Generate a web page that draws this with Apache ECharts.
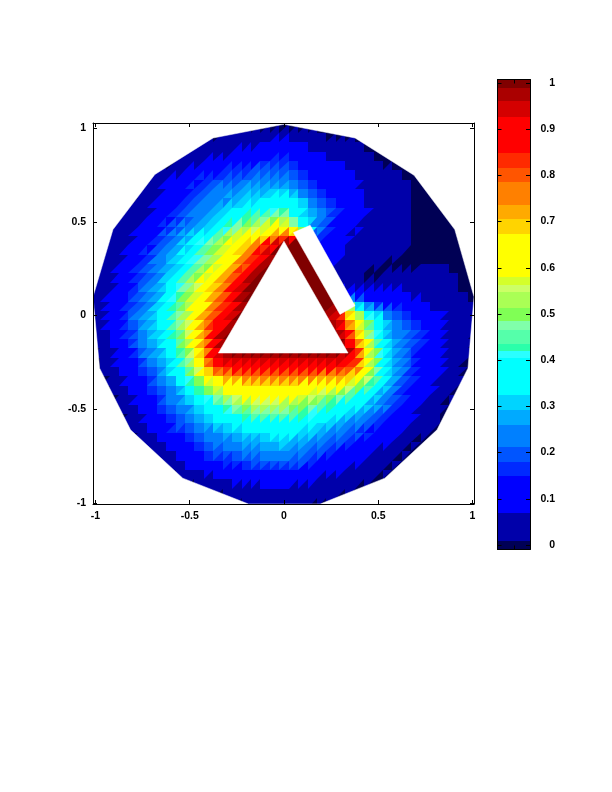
<!DOCTYPE html>
<html><head><meta charset="utf-8">
<style>html,body{margin:0;padding:0;background:#fff}#c{width:612px;height:792px}</style>
<script src="https://cdn.jsdelivr.net/npm/echarts@6/dist/echarts.min.js"></script>
</head><body><div id="c"></div>
<script>
// Grid positions of the value table (percent of full scale).
var gridX = [-1,-.95,-.9,-.85,-.8,-.75,-.7,-.65,-.6,-.55,-.5,-.45,-.4,-.35,-.3,-.25,-.2,-.15,-.1,-.05,0,.05,.1,.15,.2,.25,.3,.35,.4,.45,.5,.55,.6,.65,.7,.75,.8,.85,.9,.95,1];
var gridY = [1,.95,.9,.85,.8,.75,.7,.65,.6,.55,.5,.45,.4,.35,.3,.25,.2,.15,.1,.05,0,-.05,-.1,-.15,-.2,-.25,-.3,-.35,-.4,-.45,-.5,-.55,-.6,-.65,-.7,-.75,-.8,-.85,-.9,-.95,-1];
var fieldRows = [
[0,0,0,0,0,0,0,0,0,0,0,0,0,0,0,0,0,0,0,1,1,1],
[0,0,0,0,0,0,0,0,0,0,0,0,0,2,3,3,4,5,5,6,7,6,5,3,2,0,0,0],
[0,0,0,0,0,0,0,0,0,0,2,2,3,4,5,6,7,8,9,10,11,9,7,6,5,4,4,3,2,0],
[0,0,0,0,0,0,0,0,0,2,3,5,6,7,8,9,10,11,12,13,14,12,11,9,7,6,5,4,3,2,0,0],
[0,0,0,0,0,0,0,0,2,4,6,8,10,12,14,15,16,17,18,19,19,16,14,12,10,9,7,5,4,3,2,0,0],
[0,0,0,0,0,0,2,4,7,9,11,14,15,16,17,18,19,20,21,22,22,21,17,15,13,11,9,7,6,5,4,3,0,0],
[0,0,0,0,0,1,3,6,8,11,14,16,18,20,21,23,24,25,25,26,26,25,20,16,14,12,11,9,6,5,4,3,3,2,0],
[0,0,0,0,0,2,4,7,10,13,16,19,21,23,25,27,29,30,31,31,31,30,26,20,15,13,11,9,7,6,5,4,3,2,0,0],
[0,0,0,0,2,3,6,9,12,15,18,21,23,25,27,29,32,34,35,36,37,33,30,27,19,15,13,10,8,6,5,4,3,2,0,0,0],
[0,0,0,2,3,5,8,11,15,18,21,24,27,30,33,36,39,41,42,44,45,40,32,28,24,19,14,12,10,7,5,4,3,2,0,0,0],
[0,0,2,3,5,7,10,13,16,19,22,25,29,33,38,42,46,50,53,56,58,45,36,28,24,15,12,10,7,6,5,4,3,2,0,0,0,0],
[0,0,3,4,7,9,13,16,20,24,27,32,35,41,46,53,57,59,60,63,68,62,50,22,20,14,11,8,6,5,4,3,3,2,0,0,0,0,0],
[0,2,3,5,8,11,14,18,23,28,31,37,43,50,56,60,64,70,78,88,95,98,100,16,15,11,9,6,5,4,3,2,2,2,0,0,0,0,0],
[0,3,4,7,10,13,17,21,26,30,35,42,48,54,60,66,73,81,90,98,100,100,100,100,10,9,8,6,5,4,3,2,2,2,0,0,0,0,0,0],
[1,3,5,8,12,15,19,24,28,33,38,44,51,58,64,70,79,87,96,100,100,100,100,100,8,8,7,5,4,3,3,2,0,0,0,0,0,0,0,0,0],
[2,4,6,9,13,17,21,25,29,35,41,47,54,60,68,76,84,94,100,100,100,100,100,100,100,6,5,3,2,1,0,0,1,1,1,2,2,2,0,0,0],
[2,5,7,11,15,18,23,27,33,43,49,56,62,69,77,87,95,100,100,100,100,100,100,100,100,5,4,2,1,0,1,4,5,4,4,3,3,2,1,0,0],
[3,5,8,12,16,20,24,29,36,44,51,58,64,73,81,90,98,100,100,100,100,100,100,100,100,100,7,7,5,9,8,8,7,6,5,4,3,3,2,0,0],
[3,6,9,13,17,21,26,31,38,46,53,60,67,76,85,93,100,100,100,100,100,100,100,100,100,100,100,12,12,11,11,10,9,8,7,6,5,4,3,1,0],
[3,6,10,14,18,23,28,33,40,48,56,63,72,80,88,96,100,100,100,100,100,100,100,100,100,100,100,50,35,20,17,14,13,11,9,7,6,5,4,2,1],
[3,7,12,17,21,26,31,36,42,50,58,67,78,86,92,98,100,100,100,100,100,100,100,100,100,96,90,70,56,44,36,27,22,18,15,11,9,7,5,4,2],
[3,6,11,15,19,25,30,35,41,50,58,67,80,89,96,100,100,100,100,100,100,100,100,100,100,100,90,72,58,45,36,27,23,20,17,14,8,6,5,3,2],
[2,5,10,14,18,24,29,33,40,49,58,68,85,93,100,100,100,100,100,100,100,100,100,100,100,100,98,85,66,50,38,29,24,20,17,14,10,7,5,3,1],
[1,4,9,13,17,23,28,31,38,47,56,66,84,95,100,100,100,100,100,100,100,100,100,100,100,100,100,92,74,55,42,31,24,20,17,14,11,8,5,3,1],
[1,3,7,11,15,21,25,30,36,44,54,64,82,94,100,100,100,100,100,100,100,100,100,100,100,100,100,96,80,59,45,33,26,20,16,13,10,7,4,2,0],
[0,2,6,10,14,18,23,27,33,41,50,62,80,90,92,92,92,93,93,93,93,93,93,92,92,91,90,88,82,59,44,33,26,20,15,12,9,7,4,1,0],
[0,1,5,8,12,15,20,25,32,40,48,58,70,78,82,84,85,85,85,85,85,85,85,84,83,82,80,76,70,58,43,33,26,19,15,12,9,6,3,1,0],
[0,0,3,7,10,14,18,22,26,33,41,50,58,64,67,68,69,70,70,71,71,70,70,69,68,67,66,63,58,49,39,31,24,18,14,11,8,5,2],
[0,0,2,5,9,12,16,20,24,28,35,42,50,58,62,63,64,65,65,65,65,64,63,61,59,57,54,50,45,38,32,26,20,15,12,9,6,4,2],
[0,0,0,3,7,10,13,18,22,25,30,35,40,44,49,54,57,58,58,58,58,56,54,52,50,47,44,40,36,32,28,23,18,14,10,7,5,2],
[0,0,0,2,5,8,12,15,19,23,24,30,35,38,42,46,49,50,51,51,50,48,46,44,42,39,36,33,30,27,23,19,15,11,8,5,3],
[0,0,0,0,4,7,10,13,17,21,24,27,31,33,36,38,40,41,42,42,42,42,40,38,35,33,30,28,25,22,18,15,12,9,6,4,2],
[0,0,0,0,2,5,9,12,15,18,21,24,26,29,32,33,34,35,36,36,36,35,34,32,30,27,25,23,20,17,14,12,9,6,4,2,1],
[0,0,0,0,0,3,6,9,12,14,17,20,22,24,26,28,29,30,31,31,32,31,29,27,25,23,21,18,16,13,11,9,6,4,2],
[0,0,0,0,0,0,4,7,10,12,14,16,19,21,23,24,25,26,27,28,28,27,25,23,20,18,16,14,12,10,8,6,4,2],
[0,0,0,0,0,0,0,3,6,10,12,14,16,17,19,20,21,22,23,23,24,23,21,18,16,14,12,11,9,7,5,4,2],
[0,0,0,0,0,0,0,0,3,6,8,10,12,13,14,15,16,17,18,18,18,18,16,14,12,10,9,8,6,5,3,2],
[0,0,0,0,0,0,0,0,0,2,4,6,8,9,10,11,12,13,13,13,13,13,11,10,8,7,6,5,4,3,2],
[0,0,0,0,0,0,0,0,0,0,0,2,3,4,5,6,7,8,8,8,8,8,7,6,5,4,3,2,2],
[0,0,0,0,0,0,0,0,0,0,0,0,0,0,2,3,4,4,5,5,5,5,4,3,3,2,1],
[0,0,0,0,0,0,0,0,0,0,0,0,0,0,0,0,1,2,2,2,2,2,2,1,1]
];
var cellStep = 0.05;
// Outline of the disc, the triangular hole and the white slot.
var discOutline = [[0,1.021],[.377,.948],[.69,.749],[.906,.459],[1.008,.1],[.976,-.281],[.812,-.61],[.535,-.868],[.192,-1.006],[-.188,-1.006],[-.537,-.868],[-.814,-.61],[-.978,-.281],[-1.013,.1],[-.907,.459],[-.685,.753],[-.376,.948]];
var holeOutline = [[0,.397],[.34,-.2],[-.348,-.2]];
var slotOutline = [[.05,.443],[.139,.482],[.377,.052],[.297,.006]];
// Colour bands, bottom to top.
var bandEdges = [-.0098,.008,.07,.15,.18,.213,.26,.293,.324,.404,.419,.436,.466,.484,.514,.547,.562,.579,.674,.705,.737,.785,.817,.848,.927,.96,.99,1.0076];
var bandColors = ['#000055','#0000aa','#0000ff','#002aff','#0055ff','#0080ff','#00aaff','#00d4ff','#00ffff','#2affff','#2affaa','#55ffaa','#80ffaa','#80ff55','#aaff55','#ccff66','#d4ff2a','#ffff00','#ffd400','#ffaa00','#ff8000','#ff5500','#ff2a00','#ff0000','#d40000','#aa0000','#800000'];
var mainXTicks = [-1,-.5,0,.5,1];
var mainYTicks = [-1,-.5,0,.5,1];
var barTicks = [0,.1,.2,.3,.4,.5,.6,.7,.8,.9,1];
var barXTicks = [.5];
var FONT = 'Liberation Sans';

function colorOf(v){
  for (var i = bandColors.length - 1; i >= 0; i--) if (v >= bandEdges[i]) return bandColors[i];
  return bandColors[0];
}
function val(r,c){ var row = fieldRows[r]; if(!row) return 0; var v = row[c]; return v === undefined ? 0 : v; }
// A triangle takes its cell's value and those of two adjacent cells, except across the slot.
function triVal(r,c,r1,c1,r2,c2){
  var own = val(r,c), sum = own, n = 1;
  [val(r1,c1),val(r2,c2)].forEach(function(v){ if (Math.abs(v-own) <= 40){ sum += v; n++; } });
  return sum/n/100;
}
var cells = [];
gridY.forEach(function(y,r){ gridX.forEach(function(x,c){
  cells.push([x,y,triVal(r,c,r,c-1,r-1,c),triVal(r,c,r,c+1,r+1,c)]);
});});
var bands = bandColors.map(function(col,i){ return [bandEdges[i],bandEdges[i+1],i]; });

function renderCell(p,api){
  var x=api.value(0),y=api.value(1),h=cellStep/2;
  var a=api.coord([x-h,y+h]).map(Math.round),c=api.coord([x+h,y-h]).map(Math.round);
  return {type:'group',children:[
    {type:'rect',shape:{x:a[0],y:a[1],width:c[0]-a[0],height:c[1]-a[1]},style:{fill:colorOf(api.value(2))},silent:true},
    {type:'polygon',shape:{points:[[c[0],a[1]],[c[0],c[1]],[a[0],c[1]]]},style:{fill:colorOf(api.value(3))},silent:true}
  ]};
}
function whiteShape(points){
  return function(p,api){
    return {type:'polygon',shape:{points:points.map(function(q){return api.coord(q);})},style:{fill:'#fff',stroke:'#fff',lineWidth:.5},silent:true};
  };
}
var discReversed = [discOutline[0]].concat(discOutline.slice(1).reverse());
var outside = [[-2,2],[2,2],[2,-2],[-2,-2],[-2,2],[0,2]].concat(discReversed).concat([discOutline[0],[0,2]]);

function axisCommon(ticks,extra){
  var o = {type:'value',z:10,splitLine:{show:false},
    axisLine:{show:true,onZero:false,lineStyle:{color:'#000',width:1}},
    axisTick:{show:true,inside:true,length:4,customValues:ticks,lineStyle:{color:'#000',width:1}},
    axisLabel:{show:false}};
  for (var k in extra) o[k]=extra[k];
  return o;
}
function labelled(ticks,margin,extra){
  var l={show:true,customValues:ticks,margin:margin,color:'#000',fontFamily:FONT,fontSize:10.5,fontWeight:'bold',formatter:function(v){return String(v);}};
  for(var k in extra) l[k]=extra[k];
  return l;
}
var xr={min:-1.013,max:1.008}, yr={min:-1.006,max:1.028}, br={min:-.0098,max:1.0076};
var chart = echarts.init(document.getElementById('c'),null,{renderer:'canvas'});
chart.setOption({
  animation:false,backgroundColor:'#fff',
  grid:[{left:93,top:123,width:381,height:381},{left:497.5,top:79.5,width:32.5,height:470}],
  xAxis:[
    axisCommon(mainXTicks,{gridIndex:0,position:'bottom',min:xr.min,max:xr.max,axisLabel:labelled(mainXTicks,7)}),
    axisCommon(mainXTicks,{gridIndex:0,position:'top',min:xr.min,max:xr.max}),
    axisCommon(barXTicks,{gridIndex:1,position:'bottom',min:0,max:1}),
    axisCommon(barXTicks,{gridIndex:1,position:'top',min:0,max:1})
  ],
  yAxis:[
    axisCommon(mainYTicks,{gridIndex:0,position:'left',min:yr.min,max:yr.max,axisLabel:labelled(mainYTicks,7,{padding:[2,0,0,0]})}),
    axisCommon(mainYTicks,{gridIndex:0,position:'right',min:yr.min,max:yr.max}),
    axisCommon(barTicks,{gridIndex:1,position:'left',min:br.min,max:br.max}),
    axisCommon(barTicks,{gridIndex:1,position:'right',min:br.min,max:br.max,axisLabel:labelled(barTicks,25,{align:'right',padding:[2,0,0,0]})})
  ],
  series:[
    {type:'custom',xAxisIndex:0,yAxisIndex:0,clip:true,z:1,silent:true,progressive:0,renderItem:renderCell,data:cells,encode:{x:0,y:1}},
    {type:'custom',xAxisIndex:0,yAxisIndex:0,clip:true,z:2,silent:true,renderItem:whiteShape(outside),data:[[0,0]]},
    {type:'custom',xAxisIndex:0,yAxisIndex:0,clip:true,z:2,silent:true,renderItem:whiteShape(holeOutline),data:[[0,0]]},
    {type:'custom',xAxisIndex:0,yAxisIndex:0,clip:true,z:2,silent:true,renderItem:whiteShape(slotOutline),data:[[0,0]]},
    {type:'custom',xAxisIndex:2,yAxisIndex:2,clip:true,z:1,silent:true,data:bands,
     renderItem:function(p,api){
       var a=api.coord([0,api.value(1)]),b=api.coord([1,api.value(0)]);
       var y0=Math.round(a[1]),y1=Math.round(b[1]);
       return {type:'rect',shape:{x:a[0],y:y0,width:b[0]-a[0],height:y1-y0},style:{fill:bandColors[api.value(2)]},silent:true};
     }}
  ]
});
</script></body></html>
